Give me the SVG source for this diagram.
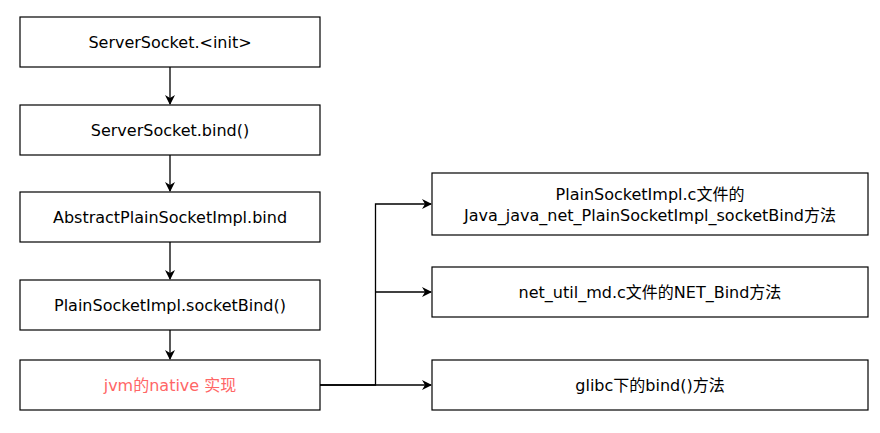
<svg xmlns="http://www.w3.org/2000/svg" width="880" height="433" viewBox="0 0 880 433">
<defs>
<marker id="arr" viewBox="0 0 10 10" refX="9" refY="5" markerWidth="10" markerHeight="10" markerUnits="userSpaceOnUse" orient="auto">
<path d="M0,0 L10,5 L0,10 L3,5 Z" fill="#000"/>
</marker>
<style>
.box{fill:#fff;stroke:#000;stroke-width:1.2}
.t{font-family:"DejaVu Sans","Noto Sans CJK SC",sans-serif;font-size:16px;fill:#000;text-anchor:middle;dominant-baseline:central}
.red{fill:#ff6666}
.c{fill:none;stroke:#000;stroke-width:1.3}
</style>
</defs>
<rect width="880" height="433" fill="#fff"/>
<g id="connectors">
<path class="c" d="M170 67 V104" marker-end="url(#arr)"/>
<path class="c" d="M170 155 V191" marker-end="url(#arr)"/>
<path class="c" d="M170 242 V279" marker-end="url(#arr)"/>
<path class="c" d="M170 330 V359" marker-end="url(#arr)"/>
<path class="c" d="M320 385 H375.5 V204 H431" marker-end="url(#arr)"/>
<path class="c" d="M375.5 292 H431" marker-end="url(#arr)"/>
<path class="c" d="M320 385 H431" marker-end="url(#arr)"/>
</g>
<g id="n1"><rect class="box" x="20" y="17" width="300" height="50"/><text class="t" x="170" y="42">ServerSocket.&lt;init&gt;</text></g>
<g id="n2"><rect class="box" x="20" y="105" width="300" height="50"/><text class="t" x="170" y="130">ServerSocket.bind()</text></g>
<g id="n3"><rect class="box" x="20" y="192" width="300" height="50"/><text class="t" x="170" y="217">AbstractPlainSocketImpl.bind</text></g>
<g id="n4"><rect class="box" x="20" y="280" width="300" height="50"/><text class="t" x="170" y="305">PlainSocketImpl.socketBind()</text></g>
<g id="n5"><rect class="box" x="20" y="360" width="300" height="50"/><text class="t red" x="170" y="385">jvm的native 实现</text></g>
<g id="n6"><rect class="box" x="432" y="173" width="436" height="62"/><text class="t" x="650" y="194">PlainSocketImpl.c文件的</text><text class="t" x="650" y="215">Java_java_net_PlainSocketImpl_socketBind方法</text></g>
<g id="n7"><rect class="box" x="432" y="267" width="436" height="50"/><text class="t" x="650" y="292">net_util_md.c文件的NET_Bind方法</text></g>
<g id="n8"><rect class="box" x="432" y="360" width="436" height="50"/><text class="t" x="650" y="385">glibc下的bind()方法</text></g>
</svg>
